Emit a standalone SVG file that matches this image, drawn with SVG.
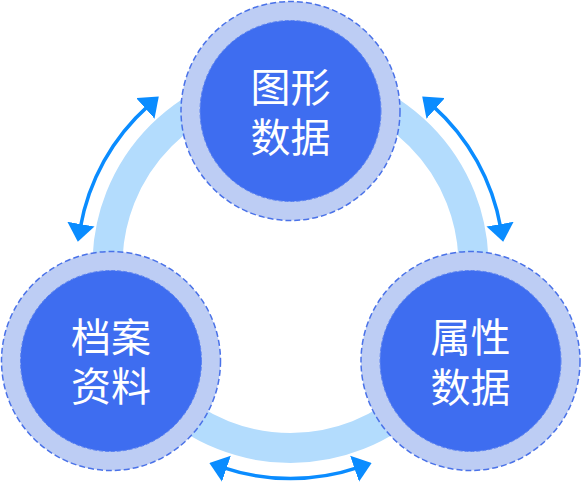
<svg xmlns="http://www.w3.org/2000/svg" width="582" height="486" viewBox="0 0 582 486">
<defs>
<style>
.ring{fill:none;stroke:#b3dcfd;stroke-width:30}
.outer{fill:#bdcdf4;stroke:#4a72e8;stroke-width:1.5;stroke-dasharray:6 3}
.inner{fill:#3e6df0;stroke:#5b82f0;stroke-width:1;stroke-dasharray:4 2}
.lbl{fill:#ffffff;font-family:"Noto Sans CJK SC","Noto Sans",sans-serif;font-size:40px;text-anchor:middle}
.arr{fill:none;stroke:#0a8cff;stroke-width:3.5;marker-start:url(#ah);marker-end:url(#ah)}
</style>
<marker id="ah" markerUnits="userSpaceOnUse" markerWidth="18" markerHeight="28" viewBox="0 0 17 26" refX="4" refY="13" orient="auto-start-reverse">
<path d="M0,0 L17,13 L0,26 z" fill="#0a8cff"/>
</marker>
</defs>
<circle class="ring" cx="290.5" cy="265" r="183"/>
<g id="connectors">
<path class="arr" d="M148.5,105.6 A213.5,213.5 0 0 0 80.2,228.3"/>
<path class="arr" d="M432.5,105.6 A213.5,213.5 0 0 1 500.8,228.3"/>
<path class="arr" d="M222.4,467.4 A213.5,213.5 0 0 0 358.6,467.4"/>
</g>
<g id="node-graphic">
<circle class="outer" cx="290.5" cy="111" r="109.5"/>
<circle class="inner" cx="290.5" cy="111" r="90.5"/>
<text class="lbl" x="290.5" y="101.5">图形<tspan x="290.5" dy="50">数据</tspan></text>
</g>
<g id="node-archive">
<circle class="outer" cx="111" cy="361" r="109.5"/>
<circle class="inner" cx="111" cy="361" r="90.5"/>
<text class="lbl" x="111" y="351.5">档案<tspan x="111" dy="49.5">资料</tspan></text>
</g>
<g id="node-attribute">
<circle class="outer" cx="470.5" cy="361" r="109.5"/>
<circle class="inner" cx="470.5" cy="361" r="90.5"/>
<text class="lbl" x="470.5" y="351.5">属性<tspan x="470.5" dy="50">数据</tspan></text>
</g>
</svg>
